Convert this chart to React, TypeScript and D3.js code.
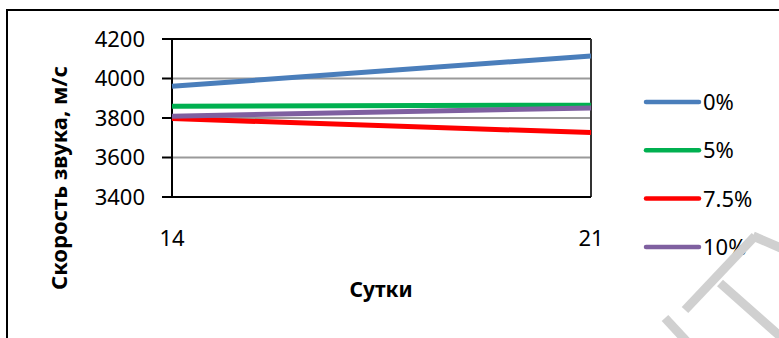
import React from "react";
import * as d3 from "d3";

const categories = ["14", "21"];
const seriesNames = ["0%", "5%", "7.5%", "10%"];
const series0 = [3961, 4114];
const series5 = [3860, 3865];
const series75 = [3797, 3726];
const series10 = [3809, 3851];
const seriesColors = ["#4a7ebb", "#00b050", "#ff0000", "#7f60a0"];
const yTicks = [3400, 3600, 3800, 4000, 4200];
const yTitle = "Скорость звука, м/с";
const xTitle = "Сутки";

const FONT = "'Noto Sans', 'Open Sans', sans-serif";

export default function App() {
  const W = 779;
  const H = 338;
  const left = 172;
  const right = 591;
  const top = 39;
  const bottom = 197;
  const y = d3.scaleLinear().domain([3400, 4200]).range([bottom, top]);
  const x = d3.scalePoint<string>().domain(categories).range([left, right]);
  const allSeries = [series0, series5, series75, series10];
  const line = d3
    .line<number>()
    .x((_, i) => x(categories[i]) as number)
    .y((d) => y(d));

  const legendY0 = 102;
  const legendStep = 48.3;

  return (
    <svg
      width={W}
      height={H}
      style={{ position: "absolute", left: 0, top: 0, background: "#fff" }}
      fontFamily={FONT}
    >
      <rect x={0} y={0} width={W} height={H} fill="#fff" />
      {/* outer chart frame */}
      <rect x={7} y={10} width={900} height={500} fill="none" stroke="#000" strokeWidth={2} />

      {/* gridlines */}
      {yTicks
        .filter((t) => t !== 3400 && t !== 4200)
        .map((t) => (
          <line key={t} x1={left} x2={right} y1={y(t)} y2={y(t)} stroke="#9a9a9a" strokeWidth={2} />
        ))}

      {/* plot border top/right */}
      <line x1={left} x2={right} y1={top} y2={top} stroke="#000" strokeWidth={2} />
      <line x1={right} x2={right} y1={top} y2={bottom} stroke="#333" strokeWidth={2} />

      {/* y ticks & labels */}
      {yTicks.map((t) => (
        <g key={t}>
          <line x1={162} x2={left} y1={y(t)} y2={y(t)} stroke="#000" strokeWidth={2} />
          <text
            x={145}
            y={y(t)}
            dy="0.36em"
            textAnchor="end"
            fontSize={22}
            fill="#000"
          >
            {t}
          </text>
        </g>
      ))}

      {/* axes */}
      <line x1={left} x2={left} y1={top} y2={bottom} stroke="#000" strokeWidth={2} />
      <line x1={left} x2={right} y1={bottom} y2={bottom} stroke="#000" strokeWidth={2} />

      {/* series lines */}
      {allSeries.map((s, i) => (
        <path
          key={seriesNames[i]}
          d={line(s) as string}
          fill="none"
          stroke={seriesColors[i]}
          strokeWidth={5}
        />
      ))}

      {/* x category labels */}
      {categories.map((c) => (
        <text key={c} x={x(c) as number} y={246} textAnchor="middle" fontSize={22} fill="#000">
          {c}
        </text>
      ))}

      {/* axis titles */}
      <text x={381} y={297} textAnchor="middle" fontSize={21} fontWeight="bold" fill="#000">
        {xTitle}
      </text>
      <text
        transform={`translate(67,178) rotate(-90)`}
        textAnchor="middle"
        fontSize={22}
        fontWeight="bold"
        fill="#000"
      >
        {yTitle}
      </text>

      {/* legend */}
      {seriesNames.map((n, i) => (
        <g key={n}>
          <line
            x1={646}
            x2={699}
            y1={legendY0 + i * legendStep}
            y2={legendY0 + i * legendStep}
            stroke={seriesColors[i]}
            strokeWidth={4.5}
            strokeLinecap="round"
          />
          <text x={703} y={legendY0 + i * legendStep} dy="0.36em" fontSize={22} fill="#000">
            {n}
          </text>
        </g>
      ))}

      {/* watermark strokes */}
      <g stroke="#d0d0d0" strokeWidth={9} fill="none" strokeLinecap="butt">
        <line x1={685} y1={310} x2={755} y2={236} />
        <line x1={720} y1={283} x2={790} y2={345} />
        <line x1={753} y1={236} x2={790} y2={252} />
        <line x1={665} y1={318} x2={690} y2={345} />
      </g>
    </svg>
  );
}
